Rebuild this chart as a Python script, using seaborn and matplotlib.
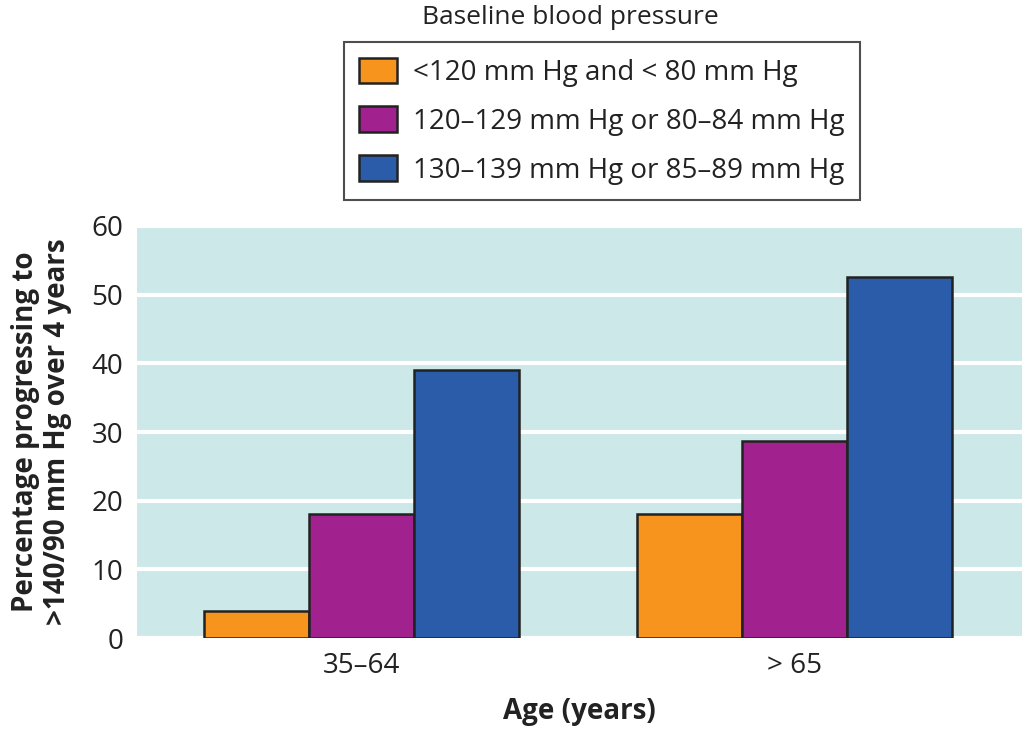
import pandas as pd
import seaborn as sns
import matplotlib.pyplot as plt

# Data
age_groups = ["35–64", "> 65"]
bp_groups = ["<120 mm Hg and < 80 mm Hg",
             "120–129 mm Hg or 80–84 mm Hg",
             "130–139 mm Hg or 85–89 mm Hg"]
pct_normal = [4, 18]
pct_elevated = [18, 28.7]
pct_high = [39, 52.6]
bar_colors = ["#F7941D", "#A1218E", "#2A5CAA"]

rows = []
for bp, vals in zip(bp_groups, [pct_normal, pct_elevated, pct_high]):
    for age, v in zip(age_groups, vals):
        rows.append({"age": age, "bp": bp, "pct": v})
df = pd.DataFrame(rows)

sns.set_theme(style="white")
plt.rcParams['font.family'] = ['Open Sans', 'DejaVu Sans']

fig = plt.figure(figsize=(10.25, 7.29), dpi=100)
ax = fig.add_axes([0.1337, 0.1248, 0.8633, 0.5652])
ax.set_facecolor("#CCE8E9")

sns.barplot(data=df, x="age", y="pct", hue="bp", hue_order=bp_groups,
            order=age_groups, palette=bar_colors, width=0.727, gap=0,
            edgecolor="#222222", linewidth=1.8, saturation=1, ax=ax, zorder=3)

ax.set_ylim(0, 60)
ax.set_xlim(-0.518, 1.524)
ax.set_yticks(range(0, 61, 10))
ax.yaxis.grid(True, color="white", linewidth=3)
ax.set_axisbelow(True)
for s in ax.spines.values():
    s.set_visible(False)
ax.tick_params(axis="both", length=0, labelsize=20, colors="#222222")
ax.tick_params(axis="y", pad=10)
ax.tick_params(axis="x", pad=10)

ax.set_xlabel("Age (years)", fontsize=20, fontweight="bold", labelpad=12, color="#222222")
ax.set_ylabel("Percentage progressing to\n>140/90 mm Hg over 4 years", fontsize=20,
              fontweight="bold", labelpad=14, color="#222222", linespacing=1.15)

handles, labels = ax.get_legend_handles_labels()
ax.legend_.remove()
leg = fig.legend(handles, labels, loc="upper left", bbox_to_anchor=(0.3356, 0.942),
                 borderaxespad=0, fontsize=20, frameon=True, fancybox=False,
                 edgecolor="#222222", handlelength=1.35, handleheight=1.05,
                 labelspacing=0.7, borderpad=0.55, handletextpad=0.6)
leg.get_frame().set_linewidth(1.5)
for t in leg.get_texts():
    t.set_color("#222222")

fig.text(0.5566, 0.976, "Baseline blood pressure", ha="center", va="center",
         fontsize=19, color="#222222")

fig.savefig("out.png", dpi=100)
